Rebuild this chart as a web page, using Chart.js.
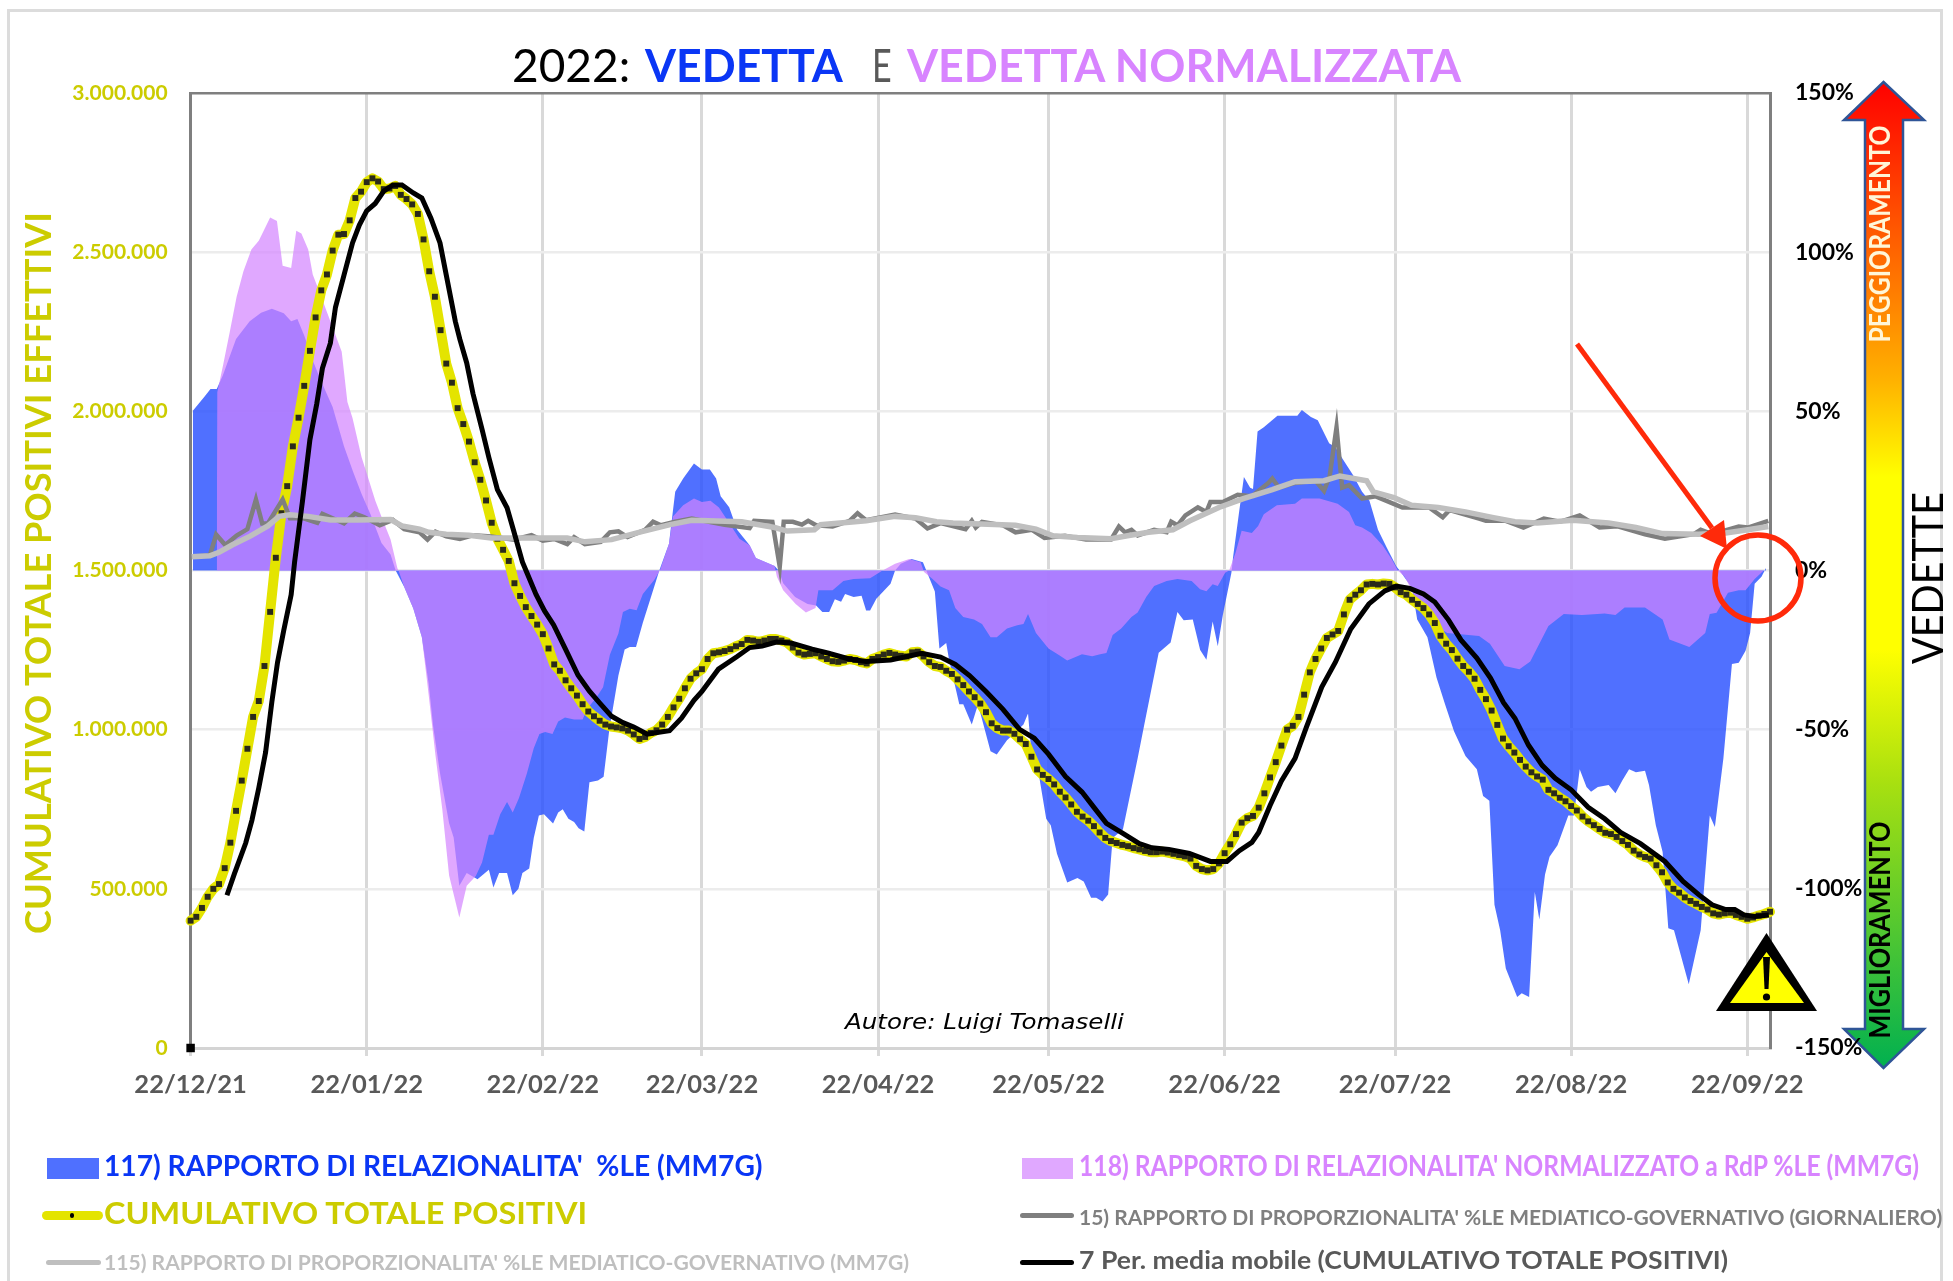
<!DOCTYPE html>
<html>
<head>
<meta charset="utf-8">
<title>Vedetta 2022</title>
<script src="https://cdn.jsdelivr.net/npm/chart.js@4"></script>
<style>
  html, body { margin: 0; background: #fff; }
  #wrap { position: relative; width: 1953px; height: 1281px; overflow: hidden; font-family: Lato, sans-serif; }
  #frame { position: absolute; left: 7px; top: 9px; width: 1936px; height: 1290px; border: 3px solid #dcdcdc; box-sizing: border-box; }
  #c { position: absolute; left: 0; top: 0; }
  .fit { position: absolute; white-space: pre; transform-origin: left center; font-weight: 700; line-height: 1; }
  .sw { position: absolute; }
</style>
</head>
<body>
<div id="wrap">
  <div id="frame"></div>
  <canvas id="c" width="1953" height="1281"></canvas>
</div>
<script>
// month ticks, in days from 22/12/21
const monthDays = [0, 31, 62, 90, 121, 151, 182, 212, 243, 274];
const monthLabels = ['22/12/21', '22/01/22', '22/02/22', '22/03/22', '22/04/22', '22/05/22', '22/06/22', '22/07/22', '22/08/22', '22/09/22'];

// CUMULATIVO TOTALE POSITIVI, one value a day, in thousands
const cumulativo = [
  400, 412, 440, 475, 500, 515, 565, 645, 745, 840, 940, 1040, 1090, 1200, 1370, 1540, 1680, 1765, 1890, 1980,
  2080, 2190, 2295, 2380, 2430, 2505, 2555, 2557, 2600, 2670, 2690, 2720, 2732, 2722, 2698, 2700, 2708, 2680, 2667, 2650,
  2620, 2540, 2440, 2360, 2255, 2150, 2090, 2010, 1960, 1905, 1840, 1785, 1720, 1650, 1600, 1565, 1530, 1460, 1420, 1385,
  1357, 1330, 1300, 1255, 1205, 1185, 1155, 1130, 1107, 1080, 1057, 1042, 1028, 1016, 1010, 1007, 1004, 997, 985, 971,
  977, 990, 998, 1016, 1040, 1070, 1097, 1130, 1160, 1177, 1190, 1222, 1240, 1243, 1247, 1253, 1262, 1269, 1282, 1280,
  1276, 1280, 1285, 1285, 1280, 1274, 1258, 1242, 1236, 1238, 1240, 1230, 1222, 1215, 1213, 1217, 1222, 1219, 1212, 1208,
  1222, 1228, 1236, 1241, 1236, 1232, 1230, 1243, 1245, 1230, 1212, 1200, 1197, 1185, 1175, 1158, 1140, 1120, 1102, 1082,
  1055, 1020, 1005, 997, 997, 987, 970, 955, 915, 875, 858, 845, 828, 805, 787, 765, 742, 727, 714, 697,
  677, 660, 650, 644, 638, 634, 628, 624, 619, 615, 615, 617, 614, 610, 606, 602, 595, 572, 562, 558,
  562, 580, 612, 640, 672, 708, 722, 729, 755, 800, 850, 898, 950, 1000, 1012, 1040, 1110, 1180, 1222, 1255,
  1288, 1299, 1310, 1362, 1408, 1424, 1438, 1456, 1458, 1456, 1459, 1458, 1447, 1432, 1424, 1408, 1395, 1382, 1362, 1335,
  1295, 1270, 1250, 1223, 1200, 1182, 1160, 1125, 1096, 1060, 1015, 972, 948, 928, 905, 884, 866, 853, 843, 811,
  800, 786, 775, 760, 746, 727, 712, 700, 688, 676, 672, 663, 650, 638, 620, 608, 600, 595, 574, 552,
  520, 500, 488, 473, 462, 453, 443, 435, 423, 419, 423, 425, 418, 412, 406, 410, 416, 421, 428
];

// 7 Per. media mobile, read at irregular days
const mediaDays = [6.4, 7.7, 9.7, 10.8, 12, 13.2, 14.3, 15.3, 16.4, 17.7, 18.3, 19.7, 21, 22.2, 23.2, 24.6, 25.5, 27, 28.5, 29.7,
  31, 32.5, 34, 35.6, 37.2, 39.2, 40.7, 42.3, 43.9, 45, 46.6, 47.4, 48.6, 49.7, 51.3, 52.5, 54, 55.7, 56.8, 58.4,
  59.2, 60.8, 62.3, 63.9, 65.9, 68.2, 70.2, 72.1, 74.1, 76.1, 78, 80.4, 82.4, 84.3, 86.4, 88.6, 90, 92.9, 96.2, 98.4,
  100.6, 103.1, 105.7, 109.4, 112.3, 115.9, 118.9, 123.2, 126.1, 128.7, 132, 134.6, 137.1, 140, 143, 145.9, 148.5, 151, 154, 156.9,
  159, 161.2, 164.1, 167, 169.2, 172.2, 175.8, 179.5, 182.4, 184.6, 186.8, 188, 190, 192, 194.4, 196.4, 199.1, 201.5, 204.2, 207.4,
  210.2, 212.2, 214.6, 217, 219, 221.4, 223.6, 226.4, 228.8, 231.1, 233.1, 235.5, 237.9, 240.2, 243, 246, 248.9, 251.7, 255.2, 259.5,
  262.7, 265.5, 267.8, 270.2, 271.8, 273.4, 275.4, 277.8];
const mediaVals = [480, 547, 644, 716, 817, 929, 1087, 1211, 1312, 1424, 1526, 1719, 1911, 2023, 2135, 2214, 2327, 2428, 2529, 2585,
  2630, 2653, 2692, 2711, 2711, 2686, 2670, 2607, 2529, 2428, 2282, 2226, 2152, 2056, 1943, 1855, 1754, 1697, 1629, 1527,
  1493, 1425, 1373, 1329, 1256, 1171, 1121, 1082, 1042, 1022, 1008, 986, 992, 997, 1036, 1092, 1120, 1190, 1230, 1258,
  1263, 1275, 1272, 1253, 1240, 1222, 1214, 1219, 1230, 1240, 1228, 1205, 1170, 1120, 1064, 1001, 973, 923, 853, 804,
  756, 706, 674, 642, 629, 624, 611, 586, 586, 620, 646, 677, 762, 839, 910, 1008, 1134, 1212, 1316, 1395,
  1436, 1451, 1444, 1426, 1401, 1345, 1282, 1225, 1162, 1085, 1036, 951, 888, 847, 811, 756, 720, 677, 642, 586,
  523, 481, 450, 435, 435, 418, 413, 418];

// 117) RAPPORTO DI RELAZIONALITA' %LE
const rapportoDays = [0.4, 2.5, 3.5, 4.6, 5.7, 8, 10.4, 12.4, 14.3, 16.4, 17.7, 18.8, 20, 21.5, 23.1, 25, 27, 28.6, 30.1, 31.7, 33.6, 35.2, 36.1,
  37.6, 39.2, 40.7, 41.9, 42.7, 43.9, 45.5, 46.3, 47.3, 48.6, 50.5, 52.5, 53.3, 54.3, 55.7, 56.7, 57.7, 58.4, 59.6, 60.4, 61.3, 62.2, 63.8, 64.7, 65.5, 66.5, 67.5, 68.3, 69.3,
  70.2, 71.7, 72.7, 73.7, 75.3, 76.4, 77.3, 78.4, 79.6, 81.2, 82.5, 84.2, 85.3, 86.7, 88.6, 90, 91.4, 92.5, 93.3, 94.8, 96.2, 98.4, 99.5, 102.8, 103.5,
  104.3, 106.4, 108.6, 110.1, 111.2, 112.4, 113.4, 114.5, 115.2, 116.7, 118.1, 118.9, 119.6, 120.7, 123.2, 124, 125, 126.9, 128.9, 129.6, 131, 131.8, 133, 133.5, 135.3, 136, 137.5, 138.6,
  140.8, 141.9, 143.7, 146.6, 147.4, 148, 149.2, 150.6, 151.4, 152.5, 154.3, 156.1, 157.2, 158.5, 159.4, 160.5, 161.5, 162.3, 164.1, 166.7, 167.8, 170.4, 172.5, 173.7, 174.8, 176.4, 177.7, 178.8, 179.9, 180.8, 181.7, 183.2,
  183.5, 184.5, 185.4, 186.5, 187, 187.8, 188.9, 191.3, 194.8, 195.6, 197.2, 198.4, 200.4, 201.5, 202.7, 204.6, 206.2, 207.5, 209, 210.6, 212.2, 212.8,
  215, 215.9, 217.7, 219.3, 220.8, 222.4, 224.4, 226.4, 227.5, 228.6, 229.5, 230.5, 231.5, 233.5, 234.3, 235.6, 236.6, 237.4, 238.4, 239.2, 240.6, 242.5, 243.5, 244.5, 245.7, 246.5, 247.7, 249.6, 250.8, 252, 253.2, 254.4, 256, 256.7, 257.9, 259.1, 260.1, 261.1, 263.7, 265.8, 267.4, 268.3, 269.8, 271.3, 272.5, 273.7, 274.5, 275.3, 276.5, 277.3];
const rapportoVals = [50.2, 54.7, 57, 57, 61.4, 72.7, 78.3, 81, 82.2, 80.8, 78.3, 79, 73.8, 66, 59, 51.4, 39, 31, 24, 17.5, 8.6, 5, 0,
  -5.2, -11.9, -20.9, -35.6, -49, -63.7, -79.4, -83.9, -99, -95, -97, -94, -99.6, -95, -95, -102, -100, -95, -93.6, -84, -77, -76.6, -79.5, -76, -75, -78, -79, -81, -82,
  -66.5, -66, -64.8, -50, -33, -24.8, -24, -24, -16.4, -7.4, 0, 8.4, 24.7, 28.9, 33.6, 31.7, 31.7, 28.9, 23.3, 19.9, 12.8, 7.9, 3.9, 1.4, 0,
  -4, -8.3, -10.5, -11, -13, -13, -9, -9.8, -7.4, -8.3, -7.9, -12.6, -12.6, -8.9, -4.2, 0, 2.1, 3.6, 2.6, -0.5, -6.6, -24.5, -22.8, -28, -42, -42, -48.4, -42,
  -56.8, -57.8, -53.3, -48.4, -44.9, -57.5, -63, -78, -80, -89, -98, -96.6, -97.7, -102.8, -102.8, -104, -101.8, -84, -81.4, -59, -49, -25.8, -22.6, -13, -15.6, -15.4, -25, -28, -16, -23.8, -13.9, -0.7,
  4.3, 17.7, 29.4, 26, 25.6, 43.7, 45, 48.6, 48.6, 50.4, 48.2, 47.2, 40, 38.7, 35.3, 30, 24.7, 21.9, 12.8, 7, 1.4, 0,
  -5.5, -15.4, -21, -33.6, -42, -50.6, -58.3, -62.4, -70.8, -72.3, -105, -113, -125, -134, -132.8, -134, -101, -109.6, -95.5, -89.9, -86.3, -77, -77, -62.4, -68, -69.5, -68, -67.4, -70, -66, -62.4, -63.4, -62.9, -67.4, -80, -88.4, -112.4, -113, -130, -113, -77, -80.6, -59, -29.4, -29, -25.2, -19.6, -4.2, -2, 0.8];

// 118) RAPPORTO DI RELAZIONALITA' NORMALIZZATO
const normDays = [4.6, 4.7, 5.75, 6.9, 8.1, 9.3, 10.7, 12, 12.8, 14, 15.2, 16.2, 17.7, 18.6, 19.5, 20.7, 21.5, 23, 24.6, 26.6, 27.6, 28.5, 30.1, 31.3, 32.5, 33.7, 35.2, 36.4, 36.6,
  37.6, 39.2, 40.7, 41.9, 43.1, 44.3, 45.5, 47.3, 48.6, 50.2, 51.3, 52.5, 53.3, 54.5, 55.7, 56.7, 57.8, 59.2, 60.4, 61.4, 62.4, 63.7, 64.7, 65.9, 67.5, 69, 69.8, 71.4, 72.6, 73.8, 75.3, 76.1, 77.3, 78.5, 79.6, 81.6, 82.6,
  84.2, 84.9, 86.7, 88.6, 90, 91.5, 93, 94.8, 96.6, 98.4, 99.5, 102.8, 103.2, 104.3, 106.5, 108.3, 110, 110.5, 113, 114.9, 116.7, 119.6, 121.8, 124, 126.5, 128.5, 129.1, 130.6, 132, 133.5, 134.6, 136, 137.9, 139.3,
  140.8, 141.9, 143.7, 145.5, 146.6, 147.4, 148.8, 151, 152.9, 154.3, 156.9, 158.7, 160.1, 161.2, 162.3, 163.8, 165.6, 166.7, 168.2, 169.6, 171.8, 173.7, 176.2, 177.7, 178.8, 179.9, 180.8, 182.1, 182.8,
  183.9, 185, 186.8, 187.9, 188.9, 191.2, 194.4, 195.6, 198.7, 201.9, 203.9, 205, 206.2, 207.8, 209.8, 211.4, 212.5,
  213.7, 215.7, 218, 221.2, 226.8, 228.7, 231.3, 233.9, 235.8, 239, 241.7, 244.9, 248.9, 250.8, 252.4, 256, 259.1, 260.3, 263.8, 266.6, 267.4, 268.6, 270.6, 272.5, 273.7, 275.3, 276.9];
const normVals = [0, 56, 64.8, 75, 86, 94, 100.8, 103.6, 106.5, 110.9, 109.8, 95.7, 95, 106.7, 105.9, 100.8, 93, 86, 78.3, 68.7, 52.9, 47.9, 35.6, 28.8, 22, 16.4, 9.7, 0.7, 0,
  -5.2, -11.9, -20.9, -39, -58, -75, -95.8, -109, -99, -96, -91.7, -83, -83, -76.6, -72.7, -76, -71.5, -63.7, -55.8, -51.4, -50.7, -51.4, -47.4, -46.2, -46.8, -46.8, -43.4, -40, -36.7, -26.5, -19.8, -13, -12, -12.5, -7.4, -3, 0,
  8.4, 17, 20.5, 22.6, 21.5, 21.9, 19.8, 14.9, 10, 7.9, 3.9, 1.4, -2, -6.2, -10.5, -13.2, -11.8, -6.2, -6.2, -3.3, -2.7, -2.4, 0, 2.1, 3.6, 2.6, -0.5, -2.7, -5, -6.2, -11.8, -14.6, -15.4, -16.8,
  -21, -21, -18.2, -17.2, -16.8, -13.7, -19.6, -24.5, -26.6, -28.3, -26.3, -26.9, -26.3, -25.9, -20.3, -18.2, -14.6, -13.2, -8.3, -4.9, -3.3, -2.7, -3.3, -5.9, -6.5, -4.3, -4.9, -0.7, 0,
  5.4, 12.5, 11.8, 14, 17.7, 20.5, 21, 22.6, 22.6, 21, 18.4, 14.2, 13.5, 11.8, 7.9, 3.6, 0,
  -2, -9, -16, -19.6, -20.6, -23, -30, -31, -28.6, -17.4, -13.7, -14, -13.5, -14, -11.6, -11.6, -15.4, -21.7, -24, -19.6, -13.7, -13.3, -7, -6.2, -6.2, -2.7, 0];

// 15) PROPORZIONALITA' giornaliero
const giornDays = [0, 3.4, 4.5, 6.1, 8.1, 10, 11.5, 12.6, 13.6, 16.2, 17.5, 19.9, 22.3, 23.2, 25, 27, 28.9, 30.5, 33.3, 35.6, 37.6, 40.3, 41.7, 43.1, 45, 47.4, 49.8, 52.9, 56.9, 60, 62, 64, 66.3, 67.5, 69.4, 72.2, 73.8, 75.3, 76.9, 80, 81.4, 82.8,
  85.3, 88.2, 94, 98.4, 99.2, 102.4, 103.7, 104.4, 106, 107.6, 108.7, 110.1, 113, 116, 117.4, 118.9, 124, 127.6, 129.7, 132, 136.4, 137.5, 138.2, 139.3, 143, 145.2, 148.1, 150.3, 153.9, 157.6, 162, 163.4, 164.5, 165.6, 166.7, 169.6, 171.8, 172.6, 173.7, 175.1, 177.3, 178.8, 179.5, 181.7, 184.3, 186.8,
  189.7, 190.4, 191.6, 194.4, 198, 199.5, 200.5, 201.7, 202.7, 203.9, 206.2, 208.6, 213.3, 218, 220.4, 221.6, 226.8, 228, 231.5, 234.6, 238.2, 241, 244.5, 248, 251.2, 256, 259.5, 264.6, 265.8, 267.8, 272.5, 274.1, 277.7];
const giornVals = [4.3, 4.8, 11.3, 8, 11, 13, 22.3, 14.8, 14.8, 22.3, 16.4, 16.4, 15, 17.8, 16.4, 14.8, 17.9, 16.8, 14.2, 15.9, 13, 12, 9.7, 12.2, 10.7, 9.9, 11.1, 10.7, 9.7, 11.1, 9.4, 9.9, 8.3, 10.5, 8.3, 9, 12, 12.3, 10.5, 12.8, 15.3, 14.2,
  15.3, 16.3, 14.4, 13.3, 15.6, 15.3, 1.2, 15.3, 15.3, 14.4, 15.6, 14.2, 13.8, 15.6, 18, 15.8, 17.6, 16.3, 13.2, 14.9, 13, 15.6, 13.5, 15.3, 14.2, 12, 12.8, 10.2, 10.9, 9.7, 9.7, 13.8, 12, 12.8, 11, 12.8, 12, 15.3, 14.2, 17.3, 19.8, 18.4, 21.5, 21.5, 23.8, 23.3,
  27.5, 28.9, 26, 27.5, 28.2, 25, 29.7, 45, 26, 26.8, 22.6, 23.3, 19.8, 19.8, 16.7, 19, 16.3, 15.6, 15.6, 13.5, 16.3, 15.3, 17.3, 13.5, 13.9, 11.4, 10, 11.4, 12.8, 11.4, 13.8, 13.5, 15.6];

// 115) PROPORZIONALITA' MM7G
const mm7Days = [0.2, 3.4, 5, 7.3, 10.5, 13.6, 15.6, 17.5, 20.7, 24.6, 29.3, 35.2, 37.2, 40.3, 41.9, 45, 49, 52.9, 56.9, 66.3, 69.4, 74.1, 78.9, 84.4, 88.2,
  97, 102.8, 105, 109.8, 110.9, 118.9, 124, 127.6, 131.3, 134.2, 145.2, 148.8, 151.8, 156.1, 162, 164.9, 168.6, 172.9, 175.9, 181, 185.3,
  190.4, 194.4, 199.5, 202.3, 207, 208.2, 211.8, 214.9, 219.6, 224.4, 229.1, 233.1, 237, 243.3, 249.6, 254.4, 259.1, 265.4, 270.2, 274.1, 277.7];
const mm7Vals = [4.3, 4.6, 5.7, 8, 10.8, 14, 17, 17.5, 17, 15.9, 15.9, 16, 14, 13, 12, 11.4, 11.1, 10.2, 10.2, 10.2, 9, 9.7, 12, 14.4, 15.8,
  15.3, 13.5, 12.4, 12.8, 14.4, 15.6, 17, 16.6, 15.3, 14.9, 14.2, 13, 10.9, 10.4, 10, 10.9, 12, 12.8, 15.6, 19.8, 22.6,
  25.4, 27.9, 28.2, 29.7, 28.2, 24.7, 22.9, 20.5, 19.8, 18.4, 16.7, 15.3, 14.9, 15.8, 14.9, 13.5, 11.6, 11.4, 11.8, 12.8, 13.8];

const yLeftTicks = [0, 500, 1000, 1500, 2000, 2500, 3000];
const yRightTicks = [-150, -100, -50, 0, 50, 100, 150];

const YELLOW_TEXT = '#cccc00';
const pts = (days, vals) => days.map((d, i) => ({ x: d, y: vals[i] }));

// squeezes a text to a given length, canvas version
function fitText(ctx, text, cx, cy, len, font, color, vertical) {
  ctx.save();
  ctx.translate(cx, cy);
  if (vertical) ctx.rotate(-Math.PI / 2);
  ctx.font = font;
  ctx.fillStyle = color;
  ctx.textAlign = 'center';
  ctx.textBaseline = 'middle';
  ctx.scale(len / ctx.measureText(text).width, 1);
  ctx.fillText(text, 0, 0);
  ctx.restore();
}

const backArrow = {
  id: 'backArrow',
  beforeDraw(chart) {
    const ctx = chart.ctx;
    const g = ctx.createLinearGradient(0, 82, 0, 1069);
    g.addColorStop(0, '#ff0000');
    g.addColorStop(0.3, '#ffb000');
    g.addColorStop(0.4, '#ffff00');
    g.addColorStop(0.575, '#ffff00');
    g.addColorStop(0.71, '#a8e010');
    g.addColorStop(1, '#00b050');
    ctx.save();
    ctx.beginPath();
    ctx.moveTo(1883.5, 82);
    ctx.lineTo(1924, 120);
    ctx.lineTo(1903, 120);
    ctx.lineTo(1903, 1029);
    ctx.lineTo(1924, 1029);
    ctx.lineTo(1883.5, 1068);
    ctx.lineTo(1844, 1029);
    ctx.lineTo(1865, 1029);
    ctx.lineTo(1865, 120);
    ctx.lineTo(1844, 120);
    ctx.closePath();
    ctx.fillStyle = g;
    ctx.fill();
    ctx.strokeStyle = '#2f5597';
    ctx.lineWidth = 2.5;
    ctx.stroke();
    ctx.restore();
    fitText(ctx, 'PEGGIORAMENTO', 1881, 234, 217, '700 29px Lato', '#fff6d8', true);
    fitText(ctx, 'MIGLIORAMENTO', 1881, 930, 217, '700 29px Lato', '#000', true);
    fitText(ctx, 'VEDETTE', 1929, 578, 172, '400 42px Lato', '#000', true);
    fitText(ctx, 'CUMULATIVO TOTALE POSITIVI EFFETTIVI', 39, 573, 722, '700 37px Lato', YELLOW_TEXT, true);
  }
};

const marks = {
  id: 'marks',
  afterDraw(chart) {
    const ctx = chart.ctx;
    ctx.save();
    // red arrow
    ctx.strokeStyle = '#ff2a0a';
    ctx.fillStyle = '#ff2a0a';
    ctx.lineWidth = 5;
    ctx.beginPath();
    ctx.moveTo(1577, 344);
    ctx.lineTo(1712, 528);
    ctx.stroke();
    ctx.beginPath();
    ctx.moveTo(1727, 549);
    ctx.lineTo(1700, 536);
    ctx.lineTo(1724, 520);
    ctx.closePath();
    ctx.fill();
    // circle
    ctx.lineWidth = 5.5;
    ctx.beginPath();
    ctx.arc(1758, 578, 43, 0, Math.PI * 2);
    ctx.stroke();
    // warning triangle
    ctx.fillStyle = '#000';
    ctx.beginPath();
    ctx.moveTo(1766.5, 933);
    ctx.lineTo(1817, 1011);
    ctx.lineTo(1716, 1011);
    ctx.closePath();
    ctx.fill();
    ctx.fillStyle = '#ffff00';
    ctx.beginPath();
    ctx.moveTo(1766.5, 952);
    ctx.lineTo(1804, 1003);
    ctx.lineTo(1730, 1003);
    ctx.closePath();
    ctx.fill();
    ctx.fillStyle = '#000';
    ctx.beginPath();
    ctx.moveTo(1763, 957);
    ctx.lineTo(1770, 957);
    ctx.lineTo(1768.5, 989);
    ctx.lineTo(1764.5, 989);
    ctx.closePath();
    ctx.fill();
    ctx.beginPath();
    ctx.arc(1766.5, 997, 3.6, 0, Math.PI * 2);
    ctx.fill();
    ctx.restore();
  }
};

new Chart('c', {
  type: 'line',
  data: {
    datasets: [
      { label: "117) RAPPORTO DI RELAZIONALITA' %LE (MM7G)", data: pts(rapportoDays, rapportoVals), yAxisID: 'y1', order: 6,
        borderWidth: 0, backgroundColor: 'rgba(41,80,255,0.82)', fill: 'origin', pointRadius: 0 },
      { label: "118) RAPPORTO DI RELAZIONALITA' NORMALIZZATO a RdP %LE (MM7G)", data: pts(normDays, normVals), yAxisID: 'y1', order: 5,
        borderWidth: 0, backgroundColor: 'rgba(211,132,255,0.71)', fill: 'origin', pointRadius: 0 },
      { label: 'CUMULATIVO TOTALE POSITIVI', data: pts(cumulativo.map((_, i) => i), cumulativo), yAxisID: 'y', order: 4, clip: false,
        borderColor: '#e4e400', borderWidth: 10, borderJoinStyle: 'round', borderCapStyle: 'round',
        pointStyle: 'rect', pointRadius: 4.2, pointBackgroundColor: '#2a2a1a', pointBorderWidth: 0 },
      { label: "15) RAPPORTO DI PROPORZIONALITA' %LE MEDIATICO-GOVERNATIVO (GIORNALIERO)", data: pts(giornDays, giornVals), yAxisID: 'y1', order: 3,
        borderColor: '#7f7f7f', borderWidth: 4.5, pointRadius: 0 },
      { label: "115) RAPPORTO DI PROPORZIONALITA' %LE MEDIATICO-GOVERNATIVO (MM7G)", data: pts(mm7Days, mm7Vals), yAxisID: 'y1', order: 2,
        borderColor: '#bfbfbf', borderWidth: 5.5, pointRadius: 0 },
      { label: '7 Per. media mobile (CUMULATIVO TOTALE POSITIVI)', data: pts(mediaDays, mediaVals), yAxisID: 'y', order: 1,
        borderColor: '#000', borderWidth: 5, pointRadius: 0 },
      { label: 'origine', data: [{ x: 0, y: 0 }], yAxisID: 'y', order: 0, clip: false, showLine: false,
        pointStyle: 'rect', pointRadius: 6, pointBackgroundColor: '#000', pointBorderWidth: 0 }
    ]
  },
  options: {
    responsive: false,
    animation: false,
    layout: { padding: { top: 93, left: 0, right: 0, bottom: 0 } },
    plugins: { legend: { display: false }, tooltip: { enabled: false } },
    scales: {
      x: {
        type: 'linear', min: 0, max: 278,
        afterFit(s) { s.height = 233; },
        afterBuildTicks(s) { s.ticks = monthDays.map(v => ({ value: v })); },
        ticks: {
          autoSkip: false, maxRotation: 0, padding: 13, color: '#595959',
          font: { family: 'Lato', weight: '700', size: 25.5 },
          callback: v => monthLabels[monthDays.indexOf(v)]
        },
        grid: { color: '#d9d9d9', lineWidth: 3, tickLength: 8 },
        border: { color: '#d4d4d4', width: 3 }
      },
      y: {
        position: 'left', min: 0, max: 3000,
        afterFit(s) { s.width = 190.6; },
        afterBuildTicks(s) { s.ticks = yLeftTicks.map(v => ({ value: v })); },
        ticks: {
          padding: 23, color: YELLOW_TEXT,
          font: { family: 'Lato', weight: '700', size: 21 },
          callback: v => (v * 1000).toLocaleString('de-DE')
        },
        grid: {
          drawTicks: false,
          color: c => c.tick.value === 3000 ? '#7f7f7f' : '#ececec',
          lineWidth: 2.5
        },
        border: { color: '#7f7f7f', width: 3 }
      },
      y1: {
        position: 'right', min: -150, max: 150,
        afterFit(s) { s.width = 183; },
        afterBuildTicks(s) { s.ticks = yRightTicks.map(v => ({ value: v })); },
        ticks: {
          padding: 25, color: '#000',
          font: { family: 'Lato', weight: '700', size: 23 },
          callback: v => v + '%'
        },
        grid: { drawOnChartArea: false, drawTicks: false },
        border: { color: '#7f7f7f', width: 3 }
      }
    }
  },
  plugins: [backArrow, marks]
});

// title, author and legend, placed over the canvas
const wrap = document.getElementById('wrap');
function fitDiv(html, x, yc, w, size, color, extra) {
  const d = document.createElement('div');
  d.className = 'fit';
  d.innerHTML = html;
  d.style.left = x + 'px';
  d.style.fontSize = size + 'px';
  d.style.color = color;
  if (extra) d.style.cssText += extra;
  wrap.appendChild(d);
  d.style.top = (yc - d.offsetHeight / 2) + 'px';
  d.style.transform = 'scaleX(' + (w / d.offsetWidth) + ')';
}
function swatch(x, y, w, h, color, radius) {
  const d = document.createElement('div');
  d.className = 'sw';
  d.style.cssText = `left:${x}px;top:${y}px;width:${w}px;height:${h}px;background:${color};border-radius:${radius || 0}px`;
  wrap.appendChild(d);
}

fitDiv('2022:', 512, 65, 118, 46, '#000', 'font-weight:400');
fitDiv('VEDETTA', 645, 65, 198, 46, '#0a36f5');
fitDiv('E', 872, 65, 20, 46, '#595959', 'font-weight:400');
fitDiv('VEDETTA NORMALIZZATA', 907, 65, 554, 46, '#d884ff');
fitDiv('Autore: Luigi Tomaselli', 845, 1022, 279, 22, '#000', 'font-family:"DejaVu Sans";font-style:italic;font-weight:400');

swatch(47, 1158, 52, 21, '#4f70ff');
fitDiv("117) RAPPORTO DI RELAZIONALITA'  %LE (MM7G)", 104, 1165, 659, 28, '#0a36f5');
swatch(42, 1211, 61, 9, '#e4e400', 4.5);
swatch(70, 1213, 4, 5, '#000', 2);
fitDiv('CUMULATIVO TOTALE POSITIVI', 104, 1212, 483, 31, YELLOW_TEXT);
swatch(46, 1260, 55, 5, '#bfbfbf', 2.5);
fitDiv("115) RAPPORTO DI PROPORZIONALITA' %LE MEDIATICO-GOVERNATIVO (MM7G)", 104, 1261, 805, 21, '#bfbfbf');
swatch(1022, 1158, 51, 21, '#e0a8ff');
fitDiv("118) RAPPORTO DI RELAZIONALITA' NORMALIZZATO a RdP %LE (MM7G)", 1079, 1165, 840, 28, '#d884ff');
swatch(1020, 1213, 54, 5, '#7f7f7f', 2.5);
fitDiv("15) RAPPORTO DI PROPORZIONALITA' %LE MEDIATICO-GOVERNATIVO (GIORNALIERO)", 1079, 1216, 863, 21, '#7f7f7f');
swatch(1020, 1260, 54, 5, '#000', 2.5);
fitDiv('7 Per. media mobile (CUMULATIVO TOTALE POSITIVI)', 1079, 1259, 649, 25, '#595959');
</script>
</body>
</html>
